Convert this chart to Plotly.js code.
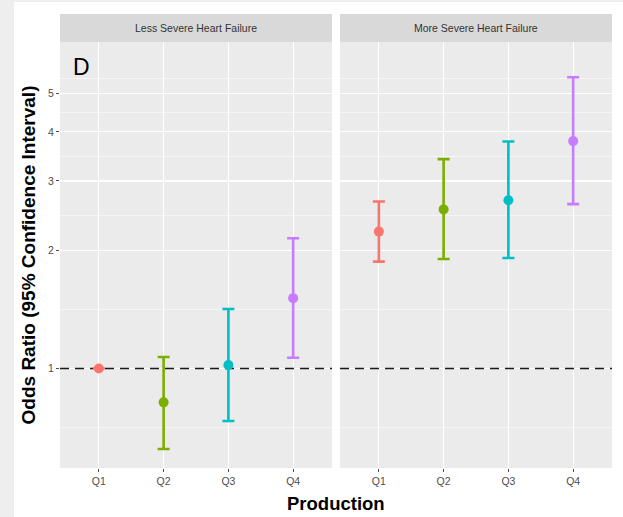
<!DOCTYPE html>
<html>
<head>
<meta charset="utf-8">
<script src="https://cdn.plot.ly/plotly-3.0.1.min.js"></script>
<style>
  html, body { margin: 0; padding: 0; background: #eeeeee; width: 623px; height: 517px; overflow: hidden; }
  #chart { position: absolute; left: 14px; top: 2px; width: 609px; height: 515px; background: #ffffff; }
</style>
</head>
<body>
<div id="chart"></div>
<script>
// ---- data ----
const quartiles = ['Q1', 'Q2', 'Q3', 'Q4'];
const colors = ['#F8766D', '#7CAE00', '#00BFC4', '#C77CFF'];
const panelNames = ['Less Severe Heart Failure', 'More Severe Heart Failure'];

const lessOR = [1.00, 0.82, 1.02, 1.51];
const lessLo = [1.00, 0.624, 0.735, 1.065];
const lessHi = [1.00, 1.07, 1.417, 2.145];

const moreOR = [2.23, 2.54, 2.68, 3.79];
const moreLo = [1.87, 1.90, 1.91, 2.62];
const moreHi = [2.66, 3.41, 3.78, 5.51];

const yTickVals = [1, 2, 3, 4, 5];
const yTickText = ['1', '2', '3', '4', '5'];
const yMinorVals = [0.7071, 1.4142, 2.4495, 3.4641, 4.4721, 5.4772];
const refValue = 1;

// ---- traces ----
const panels = [
  {or: lessOR, lo: lessLo, hi: lessHi, xa: 'x', ya: 'y'},
  {or: moreOR, lo: moreLo, hi: moreHi, xa: 'x2', ya: 'y'}
];
const traces = [];
panels.forEach(p => {
  quartiles.forEach((q, i) => {
    traces.push({
      type: 'scatter', mode: 'markers',
      x: [q], y: [p.or[i]],
      xaxis: p.xa, yaxis: p.ya,
      marker: {color: colors[i], size: 10},
      error_y: {
        type: 'data', symmetric: false,
        array: [p.hi[i] - p.or[i]],
        arrayminus: [p.or[i] - p.lo[i]],
        color: colors[i], thickness: 2.6, width: 6
      },
      showlegend: false, hoverinfo: 'skip'
    });
  });
});

const yTop = (466 - 40) / 454;
const gridC = '#ffffff';
const xRange = [-0.6, 3.6];
const tickFont = {family: 'Liberation Sans, Arial, sans-serif', size: 10.5, color: '#4d4d4d'};
const xAxisBase = {
  type: 'category', categoryarray: quartiles, categoryorder: 'array',
  range: xRange, showgrid: true, gridcolor: gridC, gridwidth: 1.1,
  zeroline: false, showline: false,
  ticks: 'outside', ticklen: 3, tickcolor: '#4d4d4d', tickwidth: 1,
  tickfont: tickFont, anchor: 'y', fixedrange: true
};
const dashLine = {color: '#1a1a1a', width: 1.6, dash: '9px,6px'};

const layout = {
  width: 609, height: 515,
  margin: {l: 46, r: 11, t: 12, b: 49},
  paper_bgcolor: '#ffffff',
  plot_bgcolor: '#ebebeb',
  font: {family: 'Liberation Sans, Arial, sans-serif'},
  xaxis: Object.assign({}, xAxisBase, {domain: [0, 272 / 552]}),
  xaxis2: Object.assign({}, xAxisBase, {domain: [280 / 552, 1]}),
  yaxis: {
    type: 'log', domain: [0, yTop], range: [-0.2532, 0.8308],
    tickmode: 'array', tickvals: yTickVals, ticktext: yTickText,
    showgrid: true, gridcolor: gridC, gridwidth: 1.1,
    minor: {tickmode: 'array', tickvals: yMinorVals, showgrid: true, gridcolor: gridC, gridwidth: 0.5, ticks: ''},
    zeroline: false, showline: false,
    ticks: 'outside', ticklen: 3, tickcolor: '#4d4d4d', tickwidth: 1,
    tickfont: tickFont,
    title: {text: 'Odds Ratio (95% Confidence Interval)', standoff: 7,
            font: {family: 'Liberation Sans, Arial, sans-serif', size: 19, color: '#000000', weight: 'bold'}},
    fixedrange: true
  },
  shapes: [
    {type: 'rect', xref: 'x domain', yref: 'paper', x0: 0, x1: 1, y0: yTop, y1: 1,
     fillcolor: '#d9d9d9', line: {width: 0}, layer: 'below'},
    {type: 'rect', xref: 'x2 domain', yref: 'paper', x0: 0, x1: 1, y0: yTop, y1: 1,
     fillcolor: '#d9d9d9', line: {width: 0}, layer: 'below'},
    {type: 'line', xref: 'x', yref: 'y', x0: xRange[0], x1: xRange[1], y0: refValue, y1: refValue,
     line: dashLine, layer: 'between'},
    {type: 'line', xref: 'x2', yref: 'y', x0: xRange[0], x1: xRange[1], y0: refValue, y1: refValue,
     line: dashLine, layer: 'between'}
  ],
  annotations: [
    {xref: 'x domain', yref: 'paper', x: 0.5, y: (yTop + 1) / 2, text: panelNames[0], showarrow: false,
     xanchor: 'center', yanchor: 'middle', font: {size: 10.5, color: '#333333'}},
    {xref: 'x2 domain', yref: 'paper', x: 0.5, y: (yTop + 1) / 2, text: panelNames[1], showarrow: false,
     xanchor: 'center', yanchor: 'middle', font: {size: 10.5, color: '#333333'}},
    {xref: 'paper', yref: 'paper', x: (67 - 46) / 552, y: (466 - 65) / 454, text: 'D', showarrow: false,
     xanchor: 'center', yanchor: 'middle', font: {size: 23, color: '#000000'}},
    {xref: 'paper', yref: 'paper', x: 0.5, y: (466 - 501) / 454, text: 'Production', showarrow: false,
     xanchor: 'center', yanchor: 'middle', font: {size: 18.5, color: '#000000', weight: 'bold'}}
  ]
};

Plotly.newPlot('chart', traces, layout, {displayModeBar: false, staticPlot: true});
</script>
</body>
</html>
